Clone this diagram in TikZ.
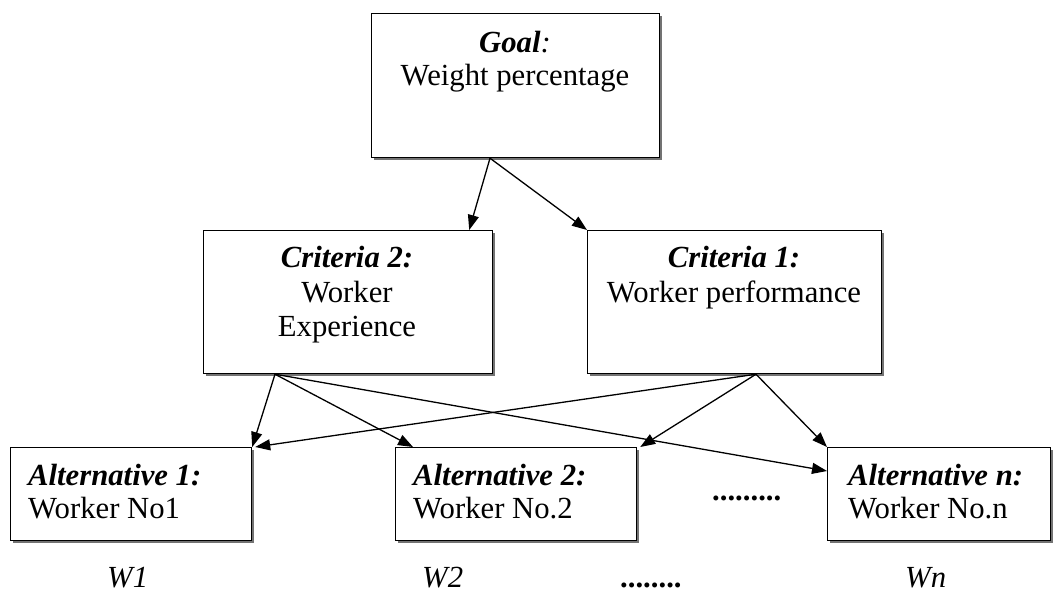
\documentclass[tikz,border=0pt]{standalone}
\usepackage{fontspec}
\setmainfont{Liberation Serif}
\usetikzlibrary{arrows.meta,calc,shadows}
\begin{document}
\begin{tikzpicture}[x=1pt,y=-1pt,
  box/.style={draw=black,line width=1.2pt,fill=white,rectangle,inner sep=0pt,anchor=north west,
    drop shadow={shadow xshift=2pt,shadow yshift=-2pt,fill=black!55,opacity=1}},
  txt/.style={font=\fontsize{30.7}{34}\selectfont,inner sep=0pt,anchor=base},
  ltxt/.style={txt,anchor=base west},
  arr/.style={line width=1.3pt,-{Triangle[length=15pt,width=11pt]}}]
\useasboundingbox (0,0) rectangle (1057,595);
% boxes
\node[box,minimum width=288pt,minimum height=144pt] (goal) at (371,13) {};
\node[box,minimum width=289pt,minimum height=143pt] (crit2) at (203,230) {};
\node[box,minimum width=294pt,minimum height=143pt] (crit1) at (587,230) {};
\node[box,minimum width=241pt,minimum height=93pt] (alt1) at (10,447) {};
\node[box,minimum width=241pt,minimum height=93pt] (alt2) at (395,447) {};
\node[box,minimum width=223pt,minimum height=93pt] (altn) at (827,447) {};
% texts
\node[txt] (goalh) at (515,52) {\textbf{\textit{Goal}}\textit{:}};
\node[txt] (goalb) at (515,85) {Weight percentage};
\node[txt] (c2h) at (347,267) {\textbf{\textit{Criteria 2:}}};
\node[txt] (c2b) at (347,302) {Worker};
\node[txt] (c2c) at (347,336) {Experience};
\node[txt] (c1h) at (734,267) {\textbf{\textit{Criteria 1:}}};
\node[txt] (c1b) at (734,302) {Worker performance};
\node[ltxt] (a1h) at (28,485) {\textbf{\textit{Alternative 1:}}};
\node[ltxt] (a1b) at (28,518) {Worker No1};
\node[ltxt] (a2h) at (413,485) {\textbf{\textit{Alternative 2:}}};
\node[ltxt] (a2b) at (413,518) {Worker No.2};
\node[ltxt] (anh) at (848,485) {\textbf{\textit{Alternative n:}}};
\node[ltxt] (anb) at (848,518) {Worker No.n};
\node[ltxt] (dots1) at (712,500) {\textbf{.........}};
\node[ltxt] (w1) at (107,587) {\textit{W1}};
\node[ltxt] (w2) at (422,587) {\textit{W2}};
\node[ltxt] (dots2) at (620,587) {\textbf{........}};
\node[ltxt] (wn) at (905,587) {\textit{Wn}};
% arrows
\coordinate (g0) at ($(goal.south west)+(119,0)$);
\coordinate (p2) at ($(crit2.south west)+(72,0)$);
\coordinate (p1) at ($(crit1.south west)+(169,0)$);
\draw[arr] (g0) -- ($(crit2.north east)+(-24,0)$);
\draw[arr] (g0) -- (crit1.north west);
\draw[arr] (p2) -- (alt1.north east);
\draw[arr] (p2) -- ($(alt2.north west)+(18,0)$);
\draw[arr] (p2) -- ($(altn.north west)+(0,24)$);
\draw[arr] (p1) -- ($(alt1.north east)+(3,0)$);
\draw[arr] (p1) -- ($(alt2.north east)+(3,0)$);
\draw[arr] (p1) -- (altn.north west);
\end{tikzpicture}
\end{document}
